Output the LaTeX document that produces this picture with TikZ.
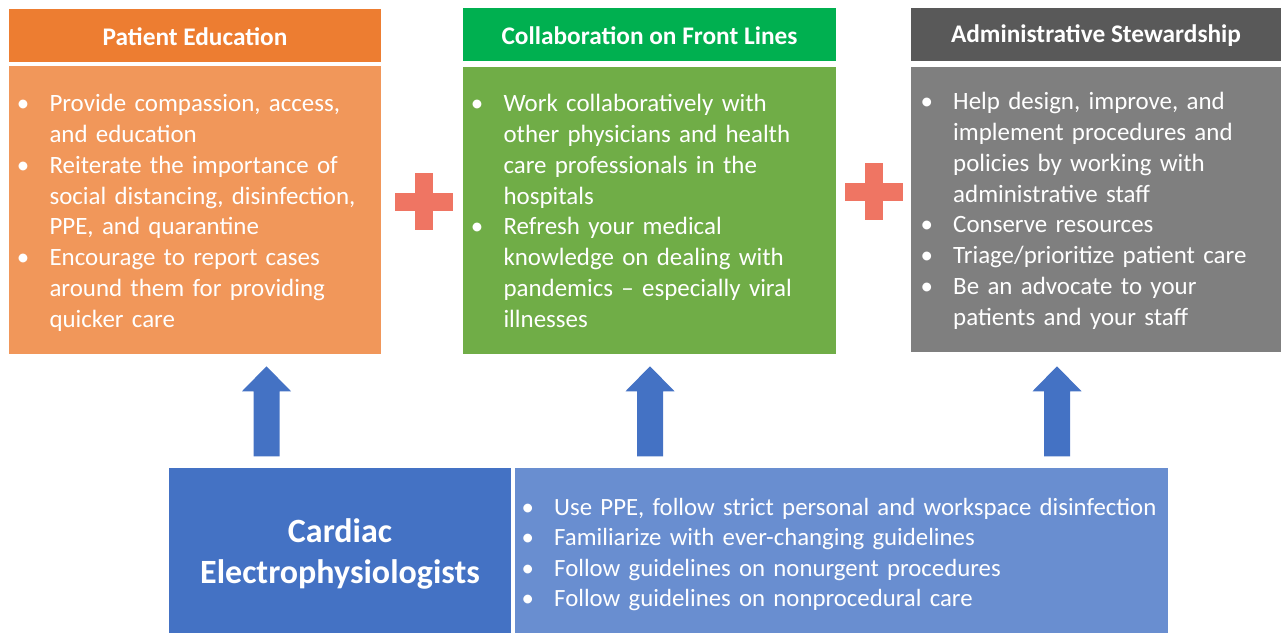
\documentclass[tikz,border=0pt]{standalone}
\usepackage{fontspec}
\setmainfont{Carlito}
\usetikzlibrary{calc, fit, positioning}

\definecolor{eduHead}{HTML}{ED7D31}
\definecolor{eduBody}{HTML}{F1975A}
\definecolor{colHead}{HTML}{00B050}
\definecolor{colBody}{HTML}{70AD47}
\definecolor{admHead}{HTML}{595959}
\definecolor{admBody}{HTML}{7F7F7F}
\definecolor{epDark}{HTML}{4472C4}
\definecolor{epLight}{HTML}{698ED0}
\definecolor{plusRed}{HTML}{EF7563}

% one bullet line, wrapped lines hang under the text
\newcommand{\bitem}[1]{\hangindent=21pt\hangafter=1\noindent\makebox[21pt][l]{\hspace{-3.5pt}\textbullet}#1\par}

\tikzset{
  box/.style={fit={#1}, inner sep=0pt, draw=white, line width=1.1pt},
  headtext/.style={text=white, font=\bfseries\fontsize{19}{22}\selectfont},
  bodytext/.style={text=white, anchor=base west, inner sep=0pt, text width=300pt, align=left,
    font=\fontsize{18.7}{23.1}\selectfont},
  uparrow/.pic={\fill[epDark] (-13,0) -- (-13,-65) -- (-24.5,-65) -- (0,-90) -- (24.5,-65) -- (13,-65) -- (13,0) -- cycle;},
  plussign/.pic={\fill[plusRed] (-29,-9) rectangle (29,9); \fill[plusRed] (-9,-28.5) rectangle (9,28.5);}
}

\begin{document}
\begin{tikzpicture}[x=0.75pt, y=-0.75pt]
    \useasboundingbox (0,0) rectangle (1282,634);

    % Patient Education
    \node[box={(8,8) (382,63)}, fill=eduHead] (eduhead) {};
    \node[box={(8,65) (382,355)}, fill=eduBody] (edubody) {};
    \node[headtext] (edutitle) at ($(eduhead)+(0,1)$) {Patient Education};
    \node[bodytext] (edulist) at ($(edubody.north west)+(14,47.5)$) {%
      \bitem{Provide compassion, access,\newline and education}
      \bitem{Reiterate the importance of\newline social distancing, disinfection,\newline PPE, and quarantine}
      \bitem{Encourage to report cases\newline around them for providing\newline quicker care}};

    % Collaboration on Front Lines
    \node[box={(462,7) (837,62)}, fill=colHead] (colhead) {};
    \node[box={(462,66) (837,355)}, fill=colBody] (colbody) {};
    \node[headtext] (coltitle) at ($(colhead)+(0,1.5)$) {Collaboration on Front Lines};
    \node[bodytext] (collist) at ($(colbody.north west)+(14,46.5)$) {%
      \bitem{Work collaboratively with\newline other physicians and health\newline care professionals in the\newline hospitals}
      \bitem{Refresh your medical\newline knowledge on dealing with\newline pandemics -- especially viral\newline illnesses}};

    % Administrative Stewardship
    \node[box={(910,7) (1282,62)}, fill=admHead] (admhead) {};
    \node[box={(910,66) (1282,353)}, fill=admBody] (admbody) {};
    \node[headtext] (admtitle) at ($(admhead)+(0,1.5)$) {Administrative Stewardship};
    \node[bodytext] (admlist) at ($(admbody.north west)+(15.7,44.5)$) {%
      \bitem{Help design, improve, and\newline implement procedures and\newline policies by working with\newline administrative staff}
      \bitem{Conserve resources}
      \bitem{Triage/prioritize patient care}
      \bitem{Be an advocate to your\newline patients and your staff}};

    % Plus signs
    \pic at (424,202) {plussign};
    \pic at (873.5,192) {plussign};

    % Cardiac Electrophysiologists
    \node[box={(168,467) (512,634)}, fill=epDark] (epleft) {};
    \node[box={(514,467) (1169,634)}, fill=epLight] (epright) {};
    \node[text=white, align=center, font=\bfseries\fontsize{25.5}{30.75}\selectfont] (eptitle) at ($(epleft)+(0,3.5)$) {Cardiac\\Electrophysiologists};
    \node[bodytext, text width=520pt, font=\fontsize{18.6}{22.9}\selectfont] (eplist) at ($(epright.north west)+(12.7,49)$) {%
      \bitem{Use PPE, follow strict personal and workspace disinfection}
      \bitem{Familiarize with ever-changing guidelines}
      \bitem{Follow guidelines on nonurgent procedures}
      \bitem{Follow guidelines on nonprocedural care}};

    % Arrows up to the three roles
    \pic at ($(epleft.north)+(-73.5,-10)$) {uparrow};
    \pic at ($(epright.north)+(-191.5,-10)$) {uparrow};
    \pic at ($(epright.north)+(215.5,-10)$) {uparrow};
\end{tikzpicture}
\end{document}
